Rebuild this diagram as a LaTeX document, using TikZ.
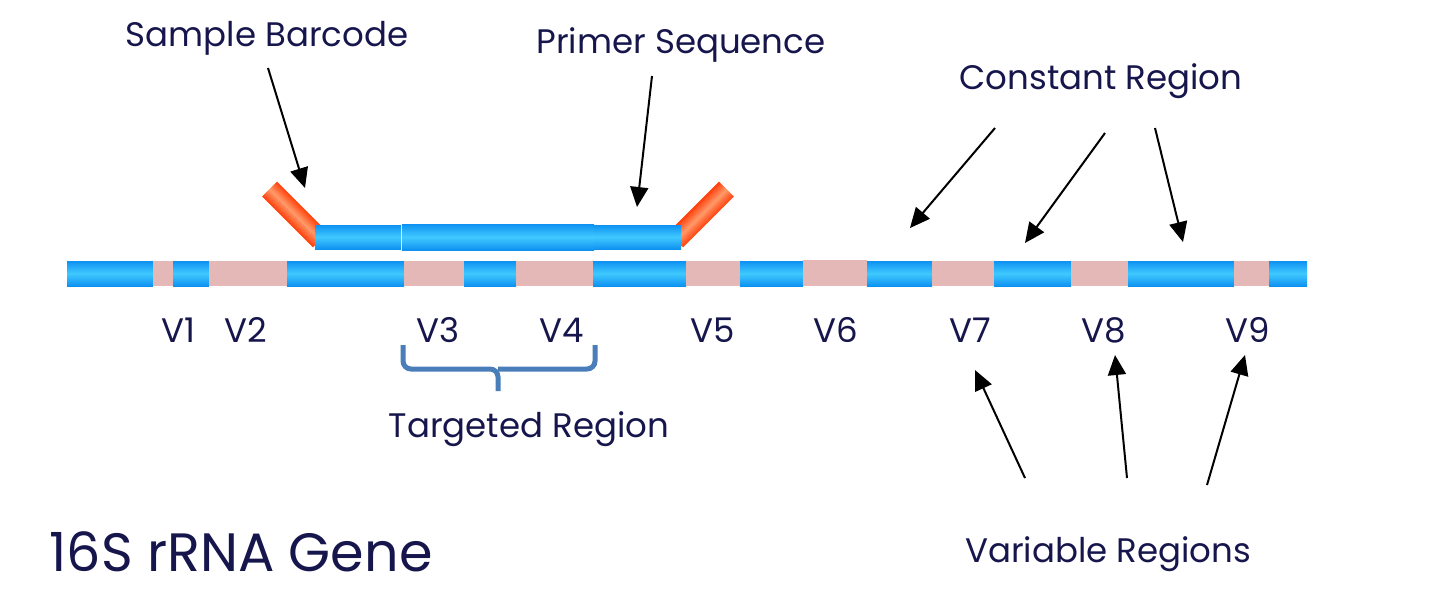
\documentclass[tikz,border=0pt]{standalone}
\usepackage{fontspec}
\setmainfont{Poppins}
\usetikzlibrary{arrows.meta}
\definecolor{navy}{HTML}{16164D}
\definecolor{bandblue}{HTML}{0E92F2}
\definecolor{bandlight}{HTML}{40C9FF}
\definecolor{bandpink}{HTML}{E5B8B8}
\definecolor{tagdark}{HTML}{FF3F0A}
\definecolor{taglight}{HTML}{FF9A6A}
\definecolor{bracecol}{HTML}{4A7EBB}
\tikzset{
  lbl/.style={text=navy, inner sep=0pt, font=\fontsize{17}{20}\selectfont},
  big/.style={font=\fontsize{27}{32}\selectfont},
  blueband/.style={top color=bandblue, bottom color=bandblue, middle color=bandlight},
  pinkband/.style={fill=bandpink},
  tag/.style={top color=tagdark, bottom color=tagdark, middle color=taglight},
  pointer/.style={-{Triangle[length=10pt,width=9pt]}, line width=1pt, black}
}
\begin{document}
\begin{tikzpicture}[x=0.5pt,y=-0.5pt]
  \useasboundingbox (0,0) rectangle (1430,591);

  %GENE
  \foreach \a/\b in {67/153,173/209,287/404,464/516,593/686,740/803,867/932,994/1071,1128/1234,1269/1307}
    \shade[blueband] (\a,261) rectangle (\b,286);
  \foreach \a/\b in {153/173,209/287,404/464,516/593,686/740,932/994,1071/1128,1234/1269}
    \fill[pinkband] (\a,261) rectangle (\b,286);
  \fill[pinkband] (803,260) rectangle (867,286);

  %BARCODES
  \begin{scope}[transform canvas={shift={(295,214.5)},rotate=-45}]
    \shade[tag] (-36,-10.5) rectangle (36,10.5);
  \end{scope}
  \begin{scope}[transform canvas={shift={(701,214.5)},rotate=45}]
    \shade[tag] (-36,-10.5) rectangle (36,10.5);
  \end{scope}

  %PRIMER
  \shade[blueband] (315,225) rectangle (401,249);
  \shade[blueband] (402,224) rectangle (594,250);
  \shade[blueband] (594,225) rectangle (681,249);

  %LABELS
  \node (sample) at (267,38) [lbl] {Sample Barcode};
  \node (primer) at (681,45) [lbl] {Primer Sequence};
  \node (constant) at (1101,81) [lbl] {Constant Region};
  \node (targeted) at (529,429) [lbl] {Targeted Region};
  \node (variable) at (1108,554) [lbl] {Variable Regions};
  \node (gene) at (241,552) [lbl,big] {16S rRNA Gene};
  \foreach \n/\x in {1/178,2/246,3/438,4/562,5/713,6/836,7/970,8/1104,9/1248}
    \node (v\n) at (\x,342) [lbl,anchor=base] {V\n};

  %ARROWS
  \coordinate (sb) at (268,68);
  \coordinate (sbtip) at (305,188);
  \coordinate (ps) at (652,76);
  \coordinate (pstip) at (637,207);
  \coordinate (cr1) at (995,128);
  \coordinate (cr1tip) at (910,228);
  \coordinate (cr2) at (1105,133);
  \coordinate (cr2tip) at (1025,243);
  \coordinate (cr3) at (1155,128);
  \coordinate (cr3tip) at (1183,242);
  \coordinate (vr7) at (1025,478);
  \coordinate (vr7tip) at (975,370);
  \coordinate (vr8) at (1127,478);
  \coordinate (vr8tip) at (1115,355);
  \coordinate (vr9) at (1207,485);
  \coordinate (vr9tip) at (1245,355);
  \draw[pointer] (sb) -- (sbtip);
  \draw[pointer] (ps) -- (pstip);
  \draw[pointer] (cr1) -- (cr1tip);
  \draw[pointer] (cr2) -- (cr2tip);
  \draw[pointer] (cr3) -- (cr3tip);
  \draw[pointer] (vr7) -- (vr7tip);
  \draw[pointer] (vr8) -- (vr8tip);
  \draw[pointer] (vr9) -- (vr9tip);

  %BRACE
  \draw[bracecol, line width=2.5pt, rounded corners=4pt] (403,345) |- (498,369) -- (498,391);
  \draw[bracecol, line width=2.5pt, rounded corners=4pt] (595,345) |- (498,369);
\end{tikzpicture}
\end{document}
